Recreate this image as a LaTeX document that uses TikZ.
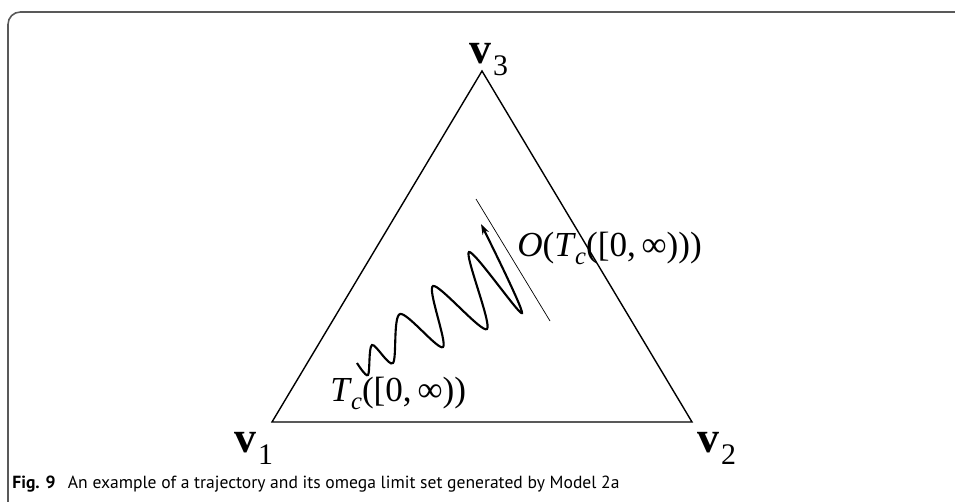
\documentclass[tikz,border=0pt]{standalone}
\usepackage{fontspec}
\setmainfont{Liberation Serif}
\setsansfont{PT Sans}
\usetikzlibrary{positioning,arrows.meta}

\newcommand{\vsub}[1]{\kern1pt\raisebox{-7pt}{\fontsize{17}{17}\selectfont\mdseries #1}}
\newcommand{\csub}{\kern-0.5pt\raisebox{-5pt}{\fontsize{14}{14}\selectfont\textit{c}}}

\begin{document}
\begin{tikzpicture}[
    x=0.02cm, y=-0.02cm,
    edge/.style={line width=0.8pt, black},
    orbit/.style={line width=1.2pt, black, -{Stealth[length=6pt, width=4pt]}},
    limitline/.style={line width=0.4pt, black},
    vlabel/.style={font=\fontsize{25}{25}\selectfont\bfseries, inner sep=0pt, anchor=base west},
    setlabel/.style={font=\fontsize{20}{20}\selectfont, inner sep=0pt, anchor=base west},
    caption/.style={font=\sffamily\fontsize{10}{12}\selectfont, inner sep=0pt, anchor=base west},
    frame/.style={draw=black!65, line width=0.9pt, rounded corners=7pt},
]
\useasboundingbox (0,0) rectangle (955,501);

% --- FRAME ---
\draw[frame] (8,505) -- (8,12) -- (960,12);

% --- SIMPLEX ---
\coordinate (c1) at (272,422);
\coordinate (c2) at (692,422);
\coordinate (c3) at (482,71);
\draw[edge] (c1) -- (c2) -- (c3) -- cycle;

\node[vlabel] (v1) at (234,452) {v\vsub{1}};
\node[vlabel] (v2) at (697,452) {v\vsub{2}};
\node[vlabel] (v3) at (469,63) {v\vsub{3}};

% --- TRAJECTORY ---
\draw[orbit] plot[smooth, tension=0.5] coordinates {
    (357,363) (368,375) (372,345) (393,363) (400,314) (443,347)
    (433,286) (487,329) (469,252) (522,313) (481,224)};

% limit set
\coordinate (o1) at (476,199);
\coordinate (o2) at (550,321);
\draw[limitline] (o1) -- (o2);

\node[setlabel] (omega) at (517,256) {\textit{O}(\textit{T}\csub([0,\,∞)))};
\node[setlabel] (traj) at (330,401) {\textit{T}\csub([0,\,∞))};

% --- CAPTION ---
\node[caption] (cap) at (12,488) {\textbf{Fig. 9}\hspace{0.7em}An example of a trajectory and its omega limit set generated by Model 2a};

\end{tikzpicture}
\end{document}
